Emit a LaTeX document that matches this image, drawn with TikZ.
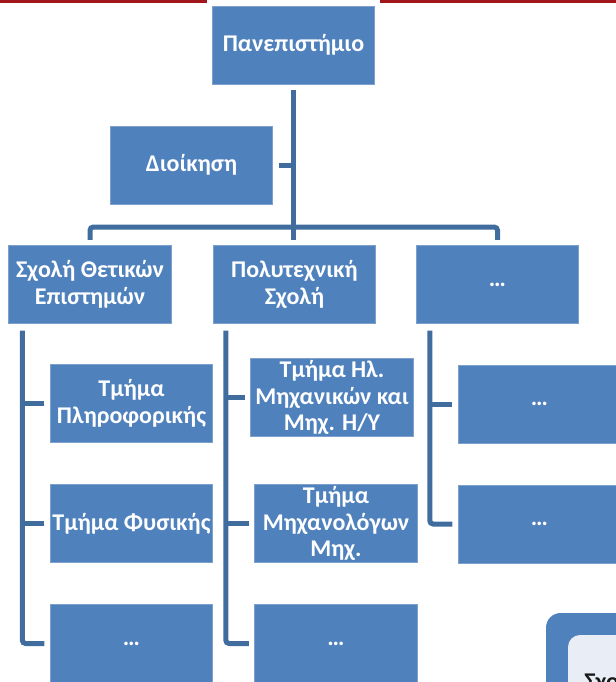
\documentclass[tikz,border=0pt]{standalone}
\usepackage{fontspec}
\setmainfont{Carlito}
\usepackage{tikz}
\definecolor{boxblue}{HTML}{4F81BD}
\definecolor{boxedge}{HTML}{7EA0CD}
\definecolor{linkblue}{HTML}{416C9E}
\definecolor{barred}{HTML}{A0161A}
\definecolor{panel}{HTML}{E9EEF6}
\tikzset{
    unit/.style = {rectangle, minimum width=122pt, minimum height=58.5pt, inner sep=1pt, align=center, draw=boxedge, line width=0.6pt, fill=boxblue, text=white, font=\bfseries\fontsize{18pt}{20pt}\selectfont},
    link/.style = {draw=linkblue, line width=3.75pt, rounded corners=2.5pt}
}
\begin{document}
\begin{tikzpicture}[x=0.75pt, y=-0.75pt, node distance=90pt]
\useasboundingbox (0,0) rectangle (616,682);
\clip (0,0) rectangle (616,682);

% slide bar and the next panel, cut by the frame
\fill [barred] (0,0) rectangle (207,3);
\fill [barred] (380,0) rectangle (616,3);
\fill [boxblue, rounded corners=11pt] (546,613) rectangle (720,760);
\fill [panel, rounded corners=9pt] (568,635) rectangle (720,760);
\node (next) [anchor=base west, inner sep=0pt, text=black!90, font=\bfseries\fontsize{18pt}{20pt}\selectfont] at (584,689) {Σχολή};

\node (uni) [unit] at (293.5,45) {Πανεπιστήμιο};
\node (admin) [unit] at (191.5,165) {Διοίκηση};
\node (sci) [unit] at (90,284.5) {Σχολή Θετικών\\Επιστημών};
\node (poly) [unit] at (294.5,284.5) {Πολυτεχνική\\Σχολή};
\node (school3) [unit] at (497.5,284.5) {…};

\node (cs) [unit] at (131.5,403.5) {Τμήμα\\Πληροφορικής};
\node (phys) [unit, below of=cs] {Τμήμα Φυσικής};
\node (sci3) [unit, below of=phys] {…};

\node (ece) [unit] at (332,397.5) {Τμήμα Ηλ.\\Μηχανικών και\\Μηχ. Η/Υ};
\node (mech) [unit] at (336,523.5) {Τμήμα\\Μηχανολόγων\\Μηχ.};
\node (poly3) [unit, below of=mech] {…};

\node (dept1) [unit] at (539.5,404) {…};
\node (dept2) [unit, below of=dept1] {…};

\coordinate (bus) at (293.5,227);
\coordinate (sciSpine) at ([xshift=10.5pt, yshift=-5pt]sci.south west);
\coordinate (polySpine) at ([xshift=9.75pt, yshift=-5pt]poly.south west);
\coordinate (school3Spine) at ([xshift=10.5pt, yshift=-5pt]school3.south west);

\draw [link] ([yshift=-4pt]uni.south) -- ([yshift=4pt]uni.south |- poly.north);
\draw [link] ([yshift=4pt]sci.north) |- (bus) -| ([yshift=4pt]school3.north);
\draw [link] ([xshift=4pt]admin.east) -- (admin.east -| uni.south);

\draw [link] (sciSpine) |- ([xshift=-4pt]sci3.west);
\draw [link] ([xshift=-4pt]cs.west) -- (cs.west -| sciSpine);
\draw [link] ([xshift=-4pt]phys.west) -- (phys.west -| sciSpine);

\draw [link] (polySpine) |- ([xshift=-4pt]poly3.west);
\draw [link] ([xshift=-4pt]ece.west) -- (ece.west -| polySpine);
\draw [link] ([xshift=-4pt]mech.west) -- (mech.west -| polySpine);

\draw [link] (school3Spine) |- ([xshift=-4pt]dept2.west);
\draw [link] ([xshift=-4pt]dept1.west) -- (dept1.west -| school3Spine);
\end{tikzpicture}
\end{document}
